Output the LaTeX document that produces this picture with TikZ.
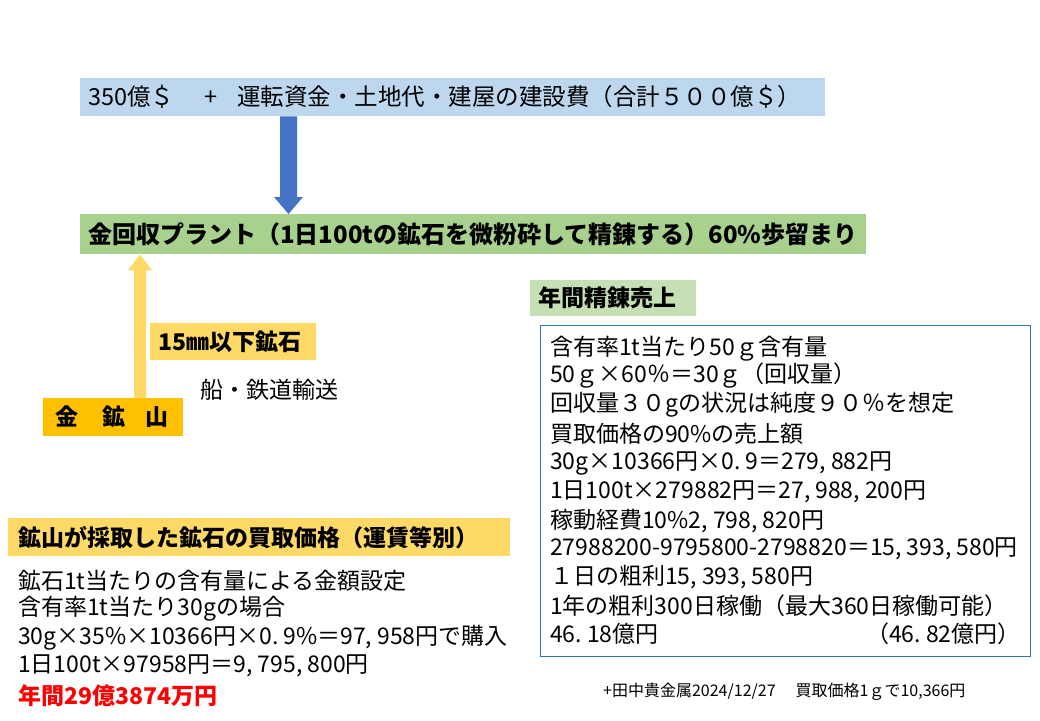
\documentclass[tikz,border=0pt]{standalone}
\usepackage{fontspec}
\setmainfont{Noto Sans CJK JP}
\usetikzlibrary{calc}
\definecolor{topblue}{HTML}{BDD7EE}
\definecolor{arrowblue}{HTML}{4472C4}
\definecolor{plantgreen}{HTML}{A9D18E}
\definecolor{lightyellow}{HTML}{FFD966}
\definecolor{goldorange}{HTML}{FFC000}
\definecolor{lightgreen}{HTML}{C5E0B4}
\definecolor{boxblue}{HTML}{2E75B6}
\definecolor{redtext}{HTML}{FF0000}
\newcommand{\cm}{,\hspace{5pt}}
\newcommand{\pd}{.\hspace{5pt}}
\tikzset{
  bar/.style={anchor=north west, inner xsep=8pt, inner ysep=0pt, align=left},
  txt/.style={anchor=west, inner sep=0pt},
}
\begin{document}
\begin{tikzpicture}[x=1pt,y=-1pt,font=\fontsize{23}{28}\selectfont]
\useasboundingbox (0,0) rectangle (1040,720);
\fill[white] (0,0) rectangle (1040,720);

% top bar
\node[bar, fill=topblue, minimum width=745pt, minimum height=38pt, text width=729pt, font=\fontsize{23.5}{28}\selectfont] (top) at (80,78)
  {350億＄\hspace{30pt}+\hspace{20pt}運転資金・土地代・建屋の建設費（合計５００億＄）};

% plant bar
\node[bar, fill=plantgreen, minimum width=786pt, minimum height=40pt, text width=770pt, font=\fontsize{24}{28}\selectfont\bfseries] (plant) at (80,214)
  {金回収プラント（1日100tの鉱石を微粉砕して精錬する）60\%歩留まり};

% ore label
\node[bar, fill=lightyellow, minimum width=166pt, minimum height=37pt, text width=150pt, font=\fontsize{23}{28}\selectfont\bfseries] (ore) at (150,323)
  {15㎜以下鉱石};

\node[txt] (transport) at (200,390) {船・鉄道輸送};

% mine
\node[bar, fill=goldorange, minimum width=140pt, minimum height=38pt, text width=124pt, inner xsep=8pt, font=\fontsize{23}{28}\selectfont\bfseries] (mine) at (43,398)
  {\hspace{4pt}金\hspace{24pt}鉱\hspace{20pt}山};

% blue arrow
\coordinate (bx) at (288.5,0);
\path (top.south -| bx) coordinate (b0) (plant.north -| bx) coordinate (b1);
\fill[arrowblue] ($(b0)+(-8.5,0)$) -- ($(b0)+(8.5,0)$) -- ($(b1)+(8.5,-17)$) -- ($(b1)+(14.5,-17)$)
  -- (b1) -- ($(b1)+(-14.5,-17)$) -- ($(b1)+(-8.5,-17)$) -- cycle;

% yellow arrow
\coordinate (yx) at (140,0);
\path (mine.north -| yx) coordinate (y0) (plant.south -| yx) coordinate (y1);
\fill[lightyellow] ($(y0)+(-6,0)$) -- ($(y0)+(6,0)$) -- ($(y1)+(6,16)$) -- ($(y1)+(12,16)$)
  -- (y1) -- ($(y1)+(-12,16)$) -- ($(y1)+(-6,16)$) -- cycle;

% annual sales
\node[bar, fill=lightgreen, minimum width=166pt, minimum height=36pt, text width=150pt, font=\fontsize{23}{28}\selectfont\bfseries] (salesT) at (530,280)
  {年間精錬売上};

\node[draw=boxblue, line width=0.9pt, anchor=north west, minimum width=490pt, minimum height=331pt, inner sep=0pt] (sales) at (540,325) {};

\node[txt] (s1) at (550,349) {含有率1t当たり50ｇ含有量};
\node[txt] (s2) at (550,376) {50ｇ×60％＝30ｇ（回収量）};
\node[txt] (s3) at (550,405) {回収量３０gの状況は純度９０％を想定};
\node[txt] (s4) at (550,434) {買取価格の90\%の売上額};
\node[txt] (s5) at (550,463) {30g×10366円×0\pd9＝279\cm882円};
\node[txt] (s6) at (550,492) {1日100t×279882円＝27\cm988\cm200円};
\node[txt] (s7) at (550,521) {稼動経費10\%2\cm798\cm820円};
\node[txt] (s8) at (550,549) {27988200-9795800-2798820＝15\cm393\cm580円};
\node[txt] (s9) at (550,577) {１日の粗利15\cm393\cm580円};
\node[txt] (s10) at (550,606) {1年の粗利300日稼働（最大360日稼働可能）};
\node[txt] (s11) at (550,634) {46\pd18億円};
\node[txt] (s12) at (866,634) {（46\pd82億円）};

% purchase price
\node[bar, fill=lightyellow, minimum width=502pt, minimum height=38pt, text width=486pt, inner xsep=8pt, font=\fontsize{23}{28}\selectfont\bfseries] (buyT) at (8,518)
  {\hspace{2pt}鉱山が採取した鉱石の買取価格（運賃等別）};

\node[txt] (p1) at (18,581) {鉱石1t当たりの含有量による金額設定};
\node[txt] (p2) at (18,609) {含有率1t当たり30gの場合};
\node[txt] (p3) at (18,638) {30g×35\%×10366円×0\pd9\%＝97\cm958円で購入};
\node[txt] (p4) at (18,666) {1日100t×97958円＝9\cm795\cm800円};
\node[txt, text=redtext, font=\fontsize{23}{28}\selectfont\bfseries] (p5) at (18,696) {年間29億3874万円};

\node[txt, font=\fontsize{16}{18}\selectfont] (note) at (603,692) {+田中貴金属2024/12/27\hspace{20pt}買取価格1ｇで10,366円};
\end{tikzpicture}
\end{document}
